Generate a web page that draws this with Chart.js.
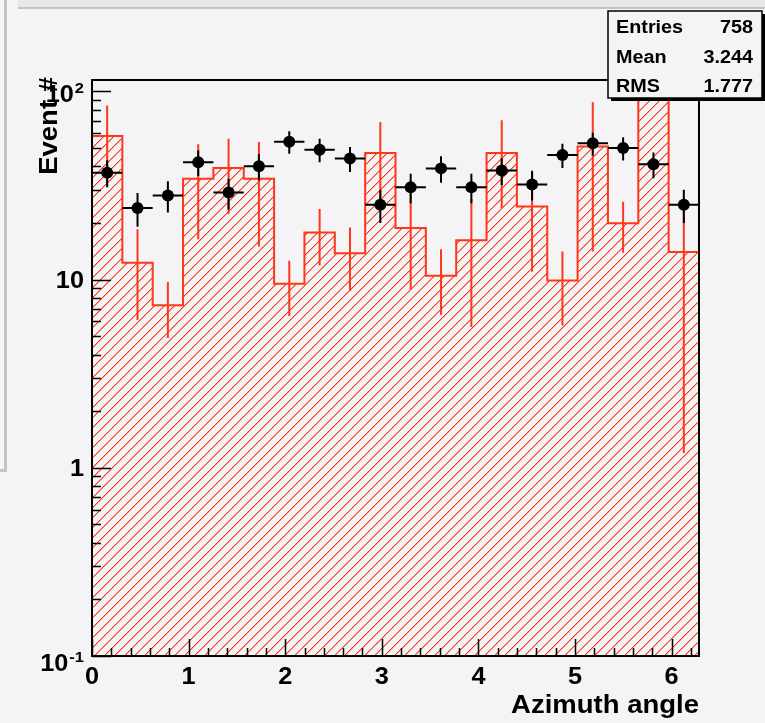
<!DOCTYPE html>
<html>
<head>
<meta charset="utf-8">
<script src="https://cdn.jsdelivr.net/npm/chart.js@4.4.1/dist/chart.umd.min.js"></script>
<style>
  html, body { margin: 0; padding: 0; background: #f4f3f6; }
  canvas { display: block; }
</style>
</head>
<body>
<canvas id="myChart" width="765" height="723"></canvas>
<script>
// binning: 20 bins over 0..2pi
const binCount = 20;
const xMin = 0;
const xMax = 2 * Math.PI;
const yMin = 0.1;
const yMax = 115;

// black points (data), Entries 758
const dataCounts = [37, 24, 28, 42, 29, 40, 54, 49, 44, 25, 31, 39, 31, 38, 32, 46, 53, 50, 41, 25];
// red hatched histogram and its errors
const histValues = [57.9, 12.3, 7.3, 34.4, 39.2, 34.4, 9.5, 17.8, 13.8, 47.1, 18.8, 10.5, 16.2, 47.1, 24.5, 9.9, 50.9, 19.9, 135, 14.0];
const histErrors = [26.4, 6.2, 2.4, 18.0, 16.9, 19.4, 3.1, 5.9, 5.1, 21.7, 9.9, 4.0, 10.6, 23.1, 13.5, 4.2, 36.8, 6.0, 40, 12.8];

// axis labels
const xTickLabels = ["0", "1", "2", "3", "4", "5", "6"];
const yTickValues = [0.1, 1, 10, 100];
const yTickBase = ["10", "1", "10", "10"];
const yTickExp = ["-1", "", "", "2"];
const xTitle = "Azimuth angle";
const yTitle = "Event #";
const statNames = ["Entries", "Mean", "RMS"];
const statValues = ["758", "3.244", "1.777"];

const RED = "#ff3719";
const BG = "#f4f3f6";
const FONT = '"Liberation Sans", Arial, sans-serif';
const binW = (xMax - xMin) / binCount;

const ctx1 = document.getElementById("myChart").getContext("2d");

// hatch pattern for the histogram fill, written pixel by pixel
const makeHatch = (target) => {
  const n = 10;
  const c = document.createElement("canvas");
  c.width = n;
  c.height = n;
  const p = c.getContext("2d");
  const img = p.createImageData(n, n);
  const put = (x, y, a) => {
    const k = (y * n + x) * 4;
    img.data[k] = 255;
    img.data[k + 1] = 55;
    img.data[k + 2] = 25;
    img.data[k + 3] = Math.max(img.data[k + 3], a);
  };
  for (let i = 0; i < n; i++) {
    put(i, n - 1 - i, 255);
    put(i, (n - i) % n, 120);
  }
  p.putImageData(img, 0, 0);
  return target.createPattern(c, "repeat");
};
const hatch = makeHatch(ctx1);

// build datasets from the arrays
const histSteps = histValues.map((v, i) => ({ x: xMin + i * binW, y: v }));
histSteps.push({ x: xMax, y: histValues[binCount - 1] });

const histErrSegs = [];
histValues.forEach((v, i) => {
  const c = xMin + (i + 0.5) * binW;
  histErrSegs.push({ x: c, y: Math.max(v - histErrors[i], yMin) });
  histErrSegs.push({ x: c, y: v + histErrors[i] });
  histErrSegs.push({ x: c, y: null });
});

const dataErrSegs = [];
const dataPts = [];
dataCounts.forEach((n, i) => {
  const c = xMin + (i + 0.5) * binW;
  const e = Math.sqrt(n);
  dataErrSegs.push({ x: c, y: n - e }, { x: c, y: n + e }, { x: c, y: null });
  dataErrSegs.push({ x: c - binW / 2, y: n }, { x: c + binW / 2, y: n }, { x: c, y: null });
  dataPts.push({ x: c, y: n });
});

// text helper, ROOT text is a bit wider than Liberation
const drawText = (ctx, s, x, y, size, align) => {
  ctx.save();
  ctx.font = "bold " + size + "px " + FONT;
  ctx.fillStyle = "#000";
  ctx.textAlign = align;
  ctx.textBaseline = "alphabetic";
  const w = ctx.measureText(s).width * 1.1;
  ctx.translate(x, y);
  ctx.scale(1.1, 1);
  ctx.fillText(s, 0, 0);
  ctx.restore();
  return w;
};

const rootFrame = {
  id: "rootFrame",
  beforeDraw(chart) {
    const ctx = chart.ctx;
    ctx.save();
    ctx.fillStyle = BG;
    ctx.fillRect(0, 0, chart.width, chart.height);
    // edges of the canvas window behind
    ctx.fillStyle = "#c4c4c6";
    ctx.fillRect(4, 0, 3, 472);
    ctx.fillRect(0, 469, 7, 3);
    ctx.fillStyle = "#e8e7ea";
    ctx.fillRect(18, 0, chart.width - 18, 7);
    ctx.fillStyle = "#c6c6c8";
    ctx.fillRect(18, 7, chart.width - 18, 2);
    ctx.restore();
  },
  afterDatasetsDraw(chart) {
    const ctx = chart.ctx;
    const a = chart.chartArea;
    const xs = chart.scales.x;
    const ys = chart.scales.y;
    ctx.save();
    ctx.strokeStyle = "#000";
    ctx.lineWidth = 2;
    ctx.strokeRect(a.left, a.top, a.right - a.left, a.bottom - a.top);

    // y ticks (log)
    ctx.lineWidth = 1.5;
    ctx.beginPath();
    for (let d = -1; d <= 2; d++) {
      for (let m = 1; m <= 9; m++) {
        const v = m * Math.pow(10, d);
        if (v > yMax) continue;
        const py = Math.round(ys.getPixelForValue(v)) + 0.5;
        ctx.moveTo(a.left, py);
        ctx.lineTo(a.left + (m === 1 ? 19 : 9), py);
      }
    }
    // x ticks
    for (let k = 0; k * 0.2 <= xMax; k++) {
      const px = Math.round(xs.getPixelForValue(k * 0.2)) + 0.5;
      ctx.moveTo(px, a.bottom);
      ctx.lineTo(px, a.bottom - (k % 5 === 0 ? 17 : 8));
    }
    ctx.stroke();
    ctx.restore();

    // x labels
    xTickLabels.forEach((s, i) => {
      drawText(ctx, s, xs.getPixelForValue(i), a.bottom + 28, 23, "center");
    });
    // y labels
    yTickValues.forEach((v, i) => {
      const py = ys.getPixelForValue(v);
      const right = a.left - 8;
      if (yTickExp[i]) {
        const dy = v < 1 ? 15 : 11;
        const ew = drawText(ctx, yTickExp[i], right, py + dy - 9, 15, "right");
        drawText(ctx, yTickBase[i], right - ew - 1, py + dy, 23, "right");
      } else {
        drawText(ctx, yTickBase[i], right, py + 8, 23, "right");
      }
    });

    // axis titles
    drawText(ctx, xTitle, a.right, 713, 25, "right");
    ctx.save();
    ctx.translate(57, 77);
    ctx.rotate(-Math.PI / 2);
    drawText(ctx, yTitle, 0, 0, 25, "right");
    ctx.restore();
  },
  afterDraw(chart) {
    const ctx = chart.ctx;
    const bx = 608, by = 11, bw = 154, bh = 87;
    ctx.save();
    ctx.fillStyle = "#000";
    ctx.fillRect(bx + 3, by + bh, bw, 3);
    ctx.fillRect(bx + bw, by + 3, 3, bh);
    ctx.fillStyle = BG;
    ctx.fillRect(bx, by, bw, bh);
    ctx.strokeStyle = "#000";
    ctx.lineWidth = 1.5;
    ctx.strokeRect(bx, by, bw, bh);
    ctx.restore();
    statNames.forEach((s, i) => {
      const base = 33 + i * 29.5;
      drawText(ctx, s, bx + 8, base, 18, "left");
      drawText(ctx, statValues[i], bx + 145, base, 18, "right");
    });
  },
};

const myChart = new Chart(ctx1, {
  type: "line",
  data: {
    datasets: [
      {
        label: "data",
        data: dataPts,
        showLine: false,
        pointRadius: 6,
        pointBorderWidth: 0,
        pointBackgroundColor: "#000",
        pointBorderColor: "#000",
        order: 1,
      },
      {
        label: "data errors",
        data: dataErrSegs,
        borderColor: "#000",
        borderWidth: 2,
        pointRadius: 0,
        fill: false,
        spanGaps: false,
        order: 2,
      },
      {
        label: "hist errors",
        data: histErrSegs,
        borderColor: RED,
        borderWidth: 2,
        pointRadius: 0,
        fill: false,
        spanGaps: false,
        order: 3,
      },
      {
        label: "hist",
        data: histSteps,
        stepped: "before",
        borderColor: RED,
        borderWidth: 2,
        backgroundColor: hatch,
        fill: "start",
        pointRadius: 0,
        clip: 0,
        order: 4,
      },
    ],
  },
  options: {
    responsive: false,
    animation: false,
    devicePixelRatio: 1,
    layout: {
      padding: { left: 92, right: 66, top: 80, bottom: 67 },
    },
    scales: {
      x: { type: "linear", min: xMin, max: xMax, display: false },
      y: { type: "logarithmic", min: yMin, max: yMax, display: false },
    },
    plugins: {
      legend: { display: false },
      tooltip: { enabled: false },
    },
  },
  plugins: [rootFrame],
});
</script>
</body>
</html>
